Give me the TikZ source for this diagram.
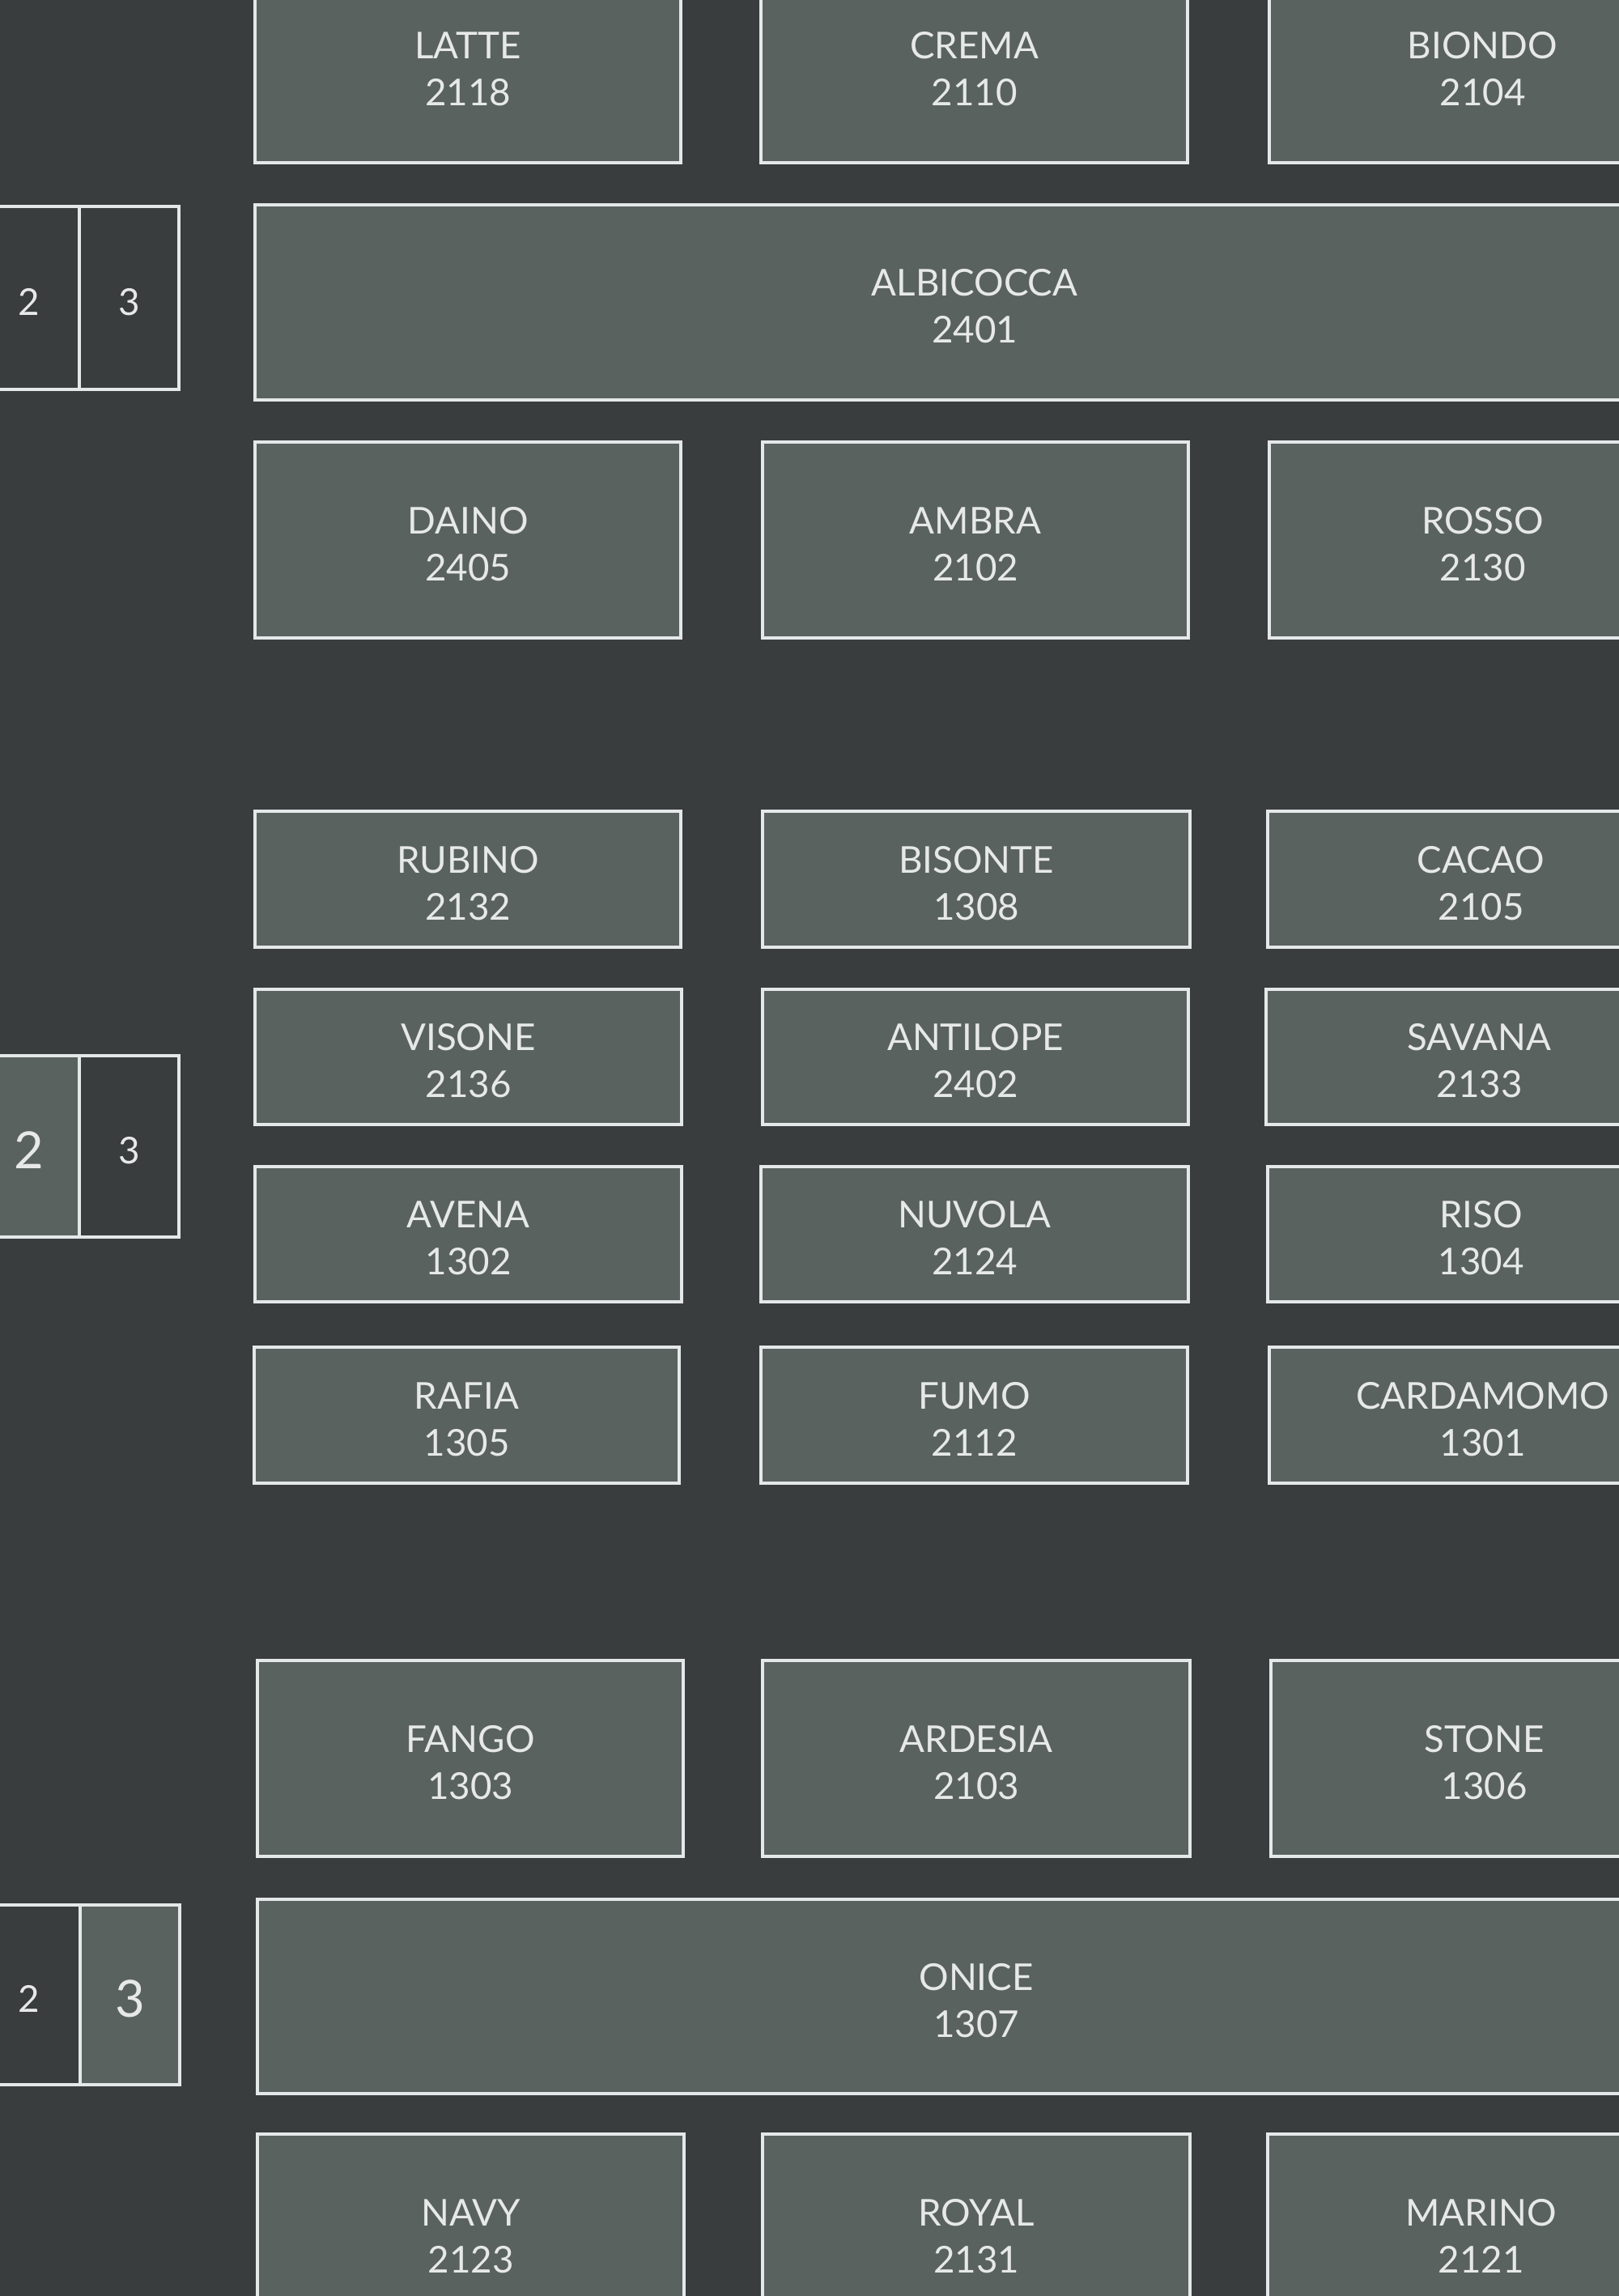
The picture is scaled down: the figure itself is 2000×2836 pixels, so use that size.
\documentclass[tikz,border=0pt]{standalone}
\usepackage{fontspec}
\setmainfont{Lato}
\definecolor{bgc}{HTML}{3A3D3D}
\definecolor{boxc}{HTML}{5A625F}
\definecolor{linec}{HTML}{E4E8E8}
\definecolor{txtc}{HTML}{E6E9E8}
\tikzset{
  cell/.style={draw=linec, line width=2.2pt, fill=boxc, inner sep=0pt},
  slot/.style={cell, fill=bgc},
  label/.style={text=txtc, align=center, inner sep=0pt, font=\fontsize{26}{33}\selectfont},
  bigtxt/.style={font=\fontsize{36}{40}\selectfont}
}
\newcommand\cellnode[8]{%
  \node[#1, minimum width={((#5)-(#3))*0.02cm}, minimum height={((#6)-(#4))*0.02cm}]
    (#2) at ({((#3)+(#5))/2},{((#4)+(#6))/2}) {};
  \node[label,#8] (#2-t) at ([yshift=-2.8pt]#2.center) {#7};}
\begin{document}
\begin{tikzpicture}[x=0.02cm,y=-0.02cm]
\useasboundingbox (0,0) rectangle (2000,2836);
\clip (0,0) rectangle (2000,2836);
\fill[bgc] (0,0) rectangle (2000,2836);
% row 1
\cellnode{cell}{latte}{315}{-41}{841}{201}{LATTE\\2118}{}
\cellnode{cell}{crema}{940}{-41}{1467}{201}{CREMA\\2110}{}
\cellnode{cell}{biondo}{1568}{-41}{2095}{201}{BIONDO\\2104}{}
% row 2
\cellnode{cell}{albicocca}{315}{253}{2093}{494}{ALBICOCCA\\2401}{}
\cellnode{slot}{atwo}{-27}{255}{98}{481}{2}{}
\cellnode{slot}{athree}{98}{255}{221}{481}{3}{}
% row 3
\cellnode{cell}{daino}{315}{546}{841}{788}{DAINO\\2405}{}
\cellnode{cell}{ambra}{942}{546}{1468}{788}{AMBRA\\2102}{}
\cellnode{cell}{rosso}{1568}{546}{2095}{788}{ROSSO\\2130}{}
% row 4
\cellnode{cell}{rubino}{315}{1002}{841}{1170}{RUBINO\\2132}{}
\cellnode{cell}{bisonte}{942}{1002}{1470}{1170}{BISONTE\\1308}{}
\cellnode{cell}{cacao}{1566}{1002}{2093}{1170}{CACAO\\2105}{}
% row 5
\cellnode{cell}{visone}{315}{1222}{842}{1389}{VISONE\\2136}{}
\cellnode{cell}{antilope}{942}{1222}{1468}{1389}{ANTILOPE\\2402}{}
\cellnode{cell}{savana}{1564}{1222}{2091}{1389}{SAVANA\\2133}{}
\cellnode{cell}{btwo}{-27}{1304}{98}{1528}{2}{bigtxt}
\cellnode{slot}{bthree}{98}{1304}{221}{1528}{3}{}
% row 6
\cellnode{cell}{avena}{315}{1441}{842}{1608}{AVENA\\1302}{}
\cellnode{cell}{nuvola}{940}{1441}{1468}{1608}{NUVOLA\\2124}{}
\cellnode{cell}{riso}{1566}{1441}{2093}{1608}{RISO\\1304}{}
% row 7
\cellnode{cell}{rafia}{314}{1664}{839}{1832}{RAFIA\\1305}{}
\cellnode{cell}{fumo}{940}{1664}{1467}{1832}{FUMO\\2112}{}
\cellnode{cell}{cardamomo}{1568}{1664}{2095}{1832}{CARDAMOMO\\1301}{}
% row 8
\cellnode{cell}{fango}{318}{2051}{844}{2293}{FANGO\\1303}{}
\cellnode{cell}{ardesia}{942}{2051}{1470}{2293}{ARDESIA\\2103}{}
\cellnode{cell}{stone}{1570}{2051}{2097}{2293}{STONE\\1306}{}
% row 9
\cellnode{cell}{onice}{318}{2346}{2094}{2586}{ONICE\\1307}{}
\cellnode{slot}{ctwo}{-27}{2353}{99}{2575}{2}{}
\cellnode{cell}{cthree}{99}{2353}{222}{2575}{3}{bigtxt}
% row 10
\cellnode{cell}{navy}{318}{2636}{845}{2878}{NAVY\\2123}{}
\cellnode{cell}{royal}{942}{2636}{1470}{2878}{ROYAL\\2131}{}
\cellnode{cell}{marino}{1566}{2636}{2093}{2878}{MARINO\\2121}{}
\end{tikzpicture}
\end{document}
